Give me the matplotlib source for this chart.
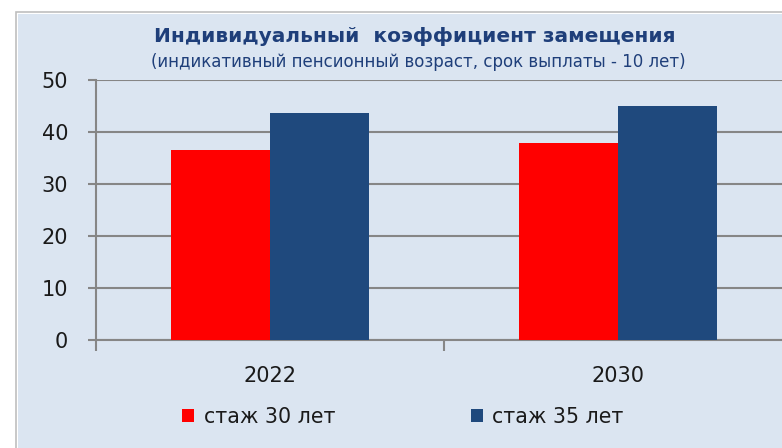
import numpy as np
import matplotlib
matplotlib.use('Agg')
import matplotlib.pyplot as plt
from matplotlib.patches import Rectangle

# data
years = ['2022', '2030']
series_names = ['стаж 30 лет', 'стаж 35 лет']
stazh_30 = [36.5, 37.9]
stazh_35 = [43.6, 45.0]
y_ticks = [0, 10, 20, 30, 40, 50]

W, H, DPI = 782, 448, 100
BG = '#DBE5F1'
RED = '#FF0000'
NAVY = '#1F497D'
GRID = '#868686'
TITLE = '#1F3F7A'

plt.rcParams['font.family'] = ['DejaVu Sans']

fig = plt.figure(figsize=(W / DPI, H / DPI), dpi=DPI)
fig.patch.set_facecolor('white')

# chart frame: grey border with light blue fill, cut off on the right
fig.patches.append(Rectangle((16 / W, -0.1), 1.0, (H - 12) / H + 0.1,
                             transform=fig.transFigure, facecolor='white',
                             edgecolor='#BFBFBF', linewidth=1.2, zorder=-10))
fig.patches.append(Rectangle((18 / W, -0.1), 1.0, (H - 14) / H + 0.1,
                             transform=fig.transFigure, facecolor=BG,
                             edgecolor='none', zorder=-9))

# plot area goes past the right edge of the picture
left, right = 96, 792
bottom, top = 340, 80
ax = fig.add_axes([left / W, (H - bottom) / H, (right - left) / W, (bottom - top) / H])
ax.set_facecolor('none')

x = np.arange(len(years))
w = 0.285
ax.bar(x - w / 2, stazh_30, width=w, color=RED, label=series_names[0], zorder=3)
ax.bar(x + w / 2, stazh_35, width=w, color=NAVY, label=series_names[1], zorder=3)

ax.set_xlim(-0.5, len(years) - 0.5)
ax.set_ylim(0, 50)
ax.set_yticks(y_ticks)
ax.set_yticklabels([str(t) for t in y_ticks], fontsize=15, color='#1a1a1a')
ax.yaxis.grid(True, color=GRID, linewidth=1.5, zorder=1)
ax.set_axisbelow(True)

# category labels centred, tick marks at category boundaries
ax.set_xticks(x)
ax.set_xticklabels(years, fontsize=15, color='#1a1a1a')
ax.tick_params(axis='x', length=0, pad=19)
ax.set_xticks(np.arange(len(years) + 1) - 0.5, minor=True)
ax.tick_params(axis='x', which='minor', length=8, width=1.5, color=GRID)
ax.tick_params(axis='y', length=6, width=1.5, color=GRID, pad=14)

for s in ['top', 'right']:
    ax.spines[s].set_visible(False)
for s in ['left', 'bottom']:
    ax.spines[s].set_color(GRID)
    ax.spines[s].set_linewidth(1.5)

fig.text(415 / W, 1 - 37 / H, 'Индивидуальный  коэффициент замещения',
         ha='center', va='center', fontsize=14.5, fontweight='bold', color=TITLE)
fig.text(418 / W, 1 - 62 / H, '(индикативный пенсионный возраст, срок выплаты - 10 лет)',
         ha='center', va='center', fontsize=12, color=TITLE)

# legend along the bottom
handles, labels = ax.get_legend_handles_labels()
fig.legend(handles, labels, loc='center', bbox_to_anchor=(403 / W, 1 - 417 / H),
           ncol=2, frameon=False, fontsize=14.8, handlelength=0.6, handleheight=0.6,
           handletextpad=0.45, columnspacing=6.6, labelcolor='#1a1a1a')

fig.savefig('out.png', dpi=DPI, facecolor='white')
